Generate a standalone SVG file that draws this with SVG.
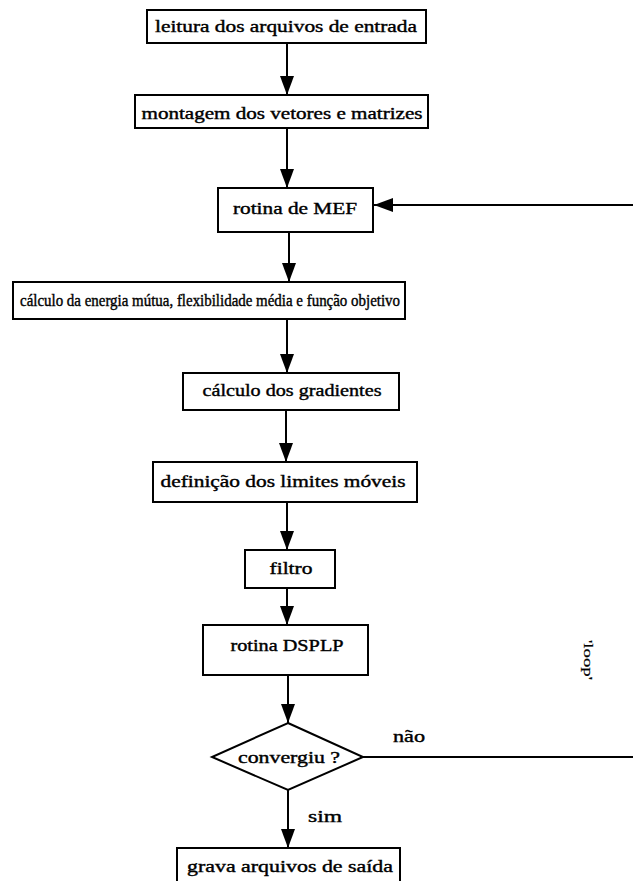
<svg xmlns="http://www.w3.org/2000/svg" width="633" height="881" viewBox="0 0 633 881">
<style>
.box{fill:#fff;stroke:#000;stroke-width:2}
.t{font-family:"Liberation Serif","Times New Roman",serif;font-size:17px;fill:#000;stroke:#000;stroke-width:0.4;text-anchor:middle}
.c{fill:none;stroke:#000;stroke-width:2}
.lbl{font-family:"Liberation Serif","Times New Roman",serif;font-size:17px;fill:#000;stroke:#000;stroke-width:0.4}
</style>
<defs>
<marker id="ah" markerUnits="userSpaceOnUse" markerWidth="20" markerHeight="16" refX="19" refY="7" orient="auto">
<path d="M0,0 L19,7 L0,14 z" fill="#000"/>
</marker>
</defs>
<rect width="633" height="881" fill="#fff"/>
<g id="connectors">
<path class="c" d="M287,43 V95" marker-end="url(#ah)"/>
<path class="c" d="M287,128 V188" marker-end="url(#ah)"/>
<path class="c" d="M289,232 V282" marker-end="url(#ah)"/>
<path class="c" d="M287,319 V373" marker-end="url(#ah)"/>
<path class="c" d="M286,410 V462" marker-end="url(#ah)"/>
<path class="c" d="M287,502 V550" marker-end="url(#ah)"/>
<path class="c" d="M287,588 V625" marker-end="url(#ah)"/>
<path class="c" d="M288,675 V723" marker-end="url(#ah)"/>
<path class="c" d="M288,790 V848" marker-end="url(#ah)"/>
<path class="c" d="M363,757 H640 V205 H374" marker-end="url(#ah)"/>
<text class="lbl" x="393" y="742" textLength="32" lengthAdjust="spacingAndGlyphs">não</text>
<text class="lbl" x="308" y="822" textLength="34" lengthAdjust="spacingAndGlyphs">sim</text>
<text class="lbl" x="584" y="640" transform="rotate(90 584 640)" style="font-size:13px;stroke-width:0.2" textLength="40" lengthAdjust="spacingAndGlyphs">'loop'</text>
</g>
<g id="n1">
<rect class="box" x="147" y="10" width="279" height="33"/>
<text class="t" x="286" y="32" textLength="262" lengthAdjust="spacingAndGlyphs">leitura dos arquivos de entrada</text>
</g>
<g id="n2">
<rect class="box" x="135" y="95" width="293" height="33"/>
<text class="t" x="282" y="119" textLength="281" lengthAdjust="spacingAndGlyphs">montagem dos vetores e matrizes</text>
</g>
<g id="n3">
<rect class="box" x="218" y="188" width="155" height="44"/>
<text class="t" x="295" y="214" textLength="124" lengthAdjust="spacingAndGlyphs">rotina de MEF</text>
</g>
<g id="n4">
<rect class="box" x="13" y="282" width="392" height="37"/>
<text class="t" x="210" y="306" textLength="380" lengthAdjust="spacingAndGlyphs">cálculo da energia mútua, flexibilidade média e função objetivo</text>
</g>
<g id="n5">
<rect class="box" x="183" y="373" width="216" height="37"/>
<text class="t" x="292" y="396" textLength="179" lengthAdjust="spacingAndGlyphs">cálculo dos gradientes</text>
</g>
<g id="n6">
<rect class="box" x="153" y="462" width="264" height="40"/>
<text class="t" x="283" y="487" textLength="245" lengthAdjust="spacingAndGlyphs">definição dos limites móveis</text>
</g>
<g id="n7">
<rect class="box" x="245" y="550" width="90" height="38"/>
<text class="t" x="291" y="574" textLength="43" lengthAdjust="spacingAndGlyphs">filtro</text>
</g>
<g id="n8">
<rect class="box" x="203" y="625" width="165" height="50"/>
<text class="t" x="287" y="651" textLength="113" lengthAdjust="spacingAndGlyphs">rotina DSPLP</text>
</g>
<g id="n9">
<polygon class="box" points="288,723 363,757 288,790 212,757"/>
<text class="t" x="289" y="763" textLength="102" lengthAdjust="spacingAndGlyphs">convergiu ?</text>
</g>
<g id="n10">
<rect class="box" x="177" y="848" width="223" height="45"/>
<text class="t" x="290" y="872" textLength="206" lengthAdjust="spacingAndGlyphs">grava arquivos de saída</text>
</g>
</svg>
